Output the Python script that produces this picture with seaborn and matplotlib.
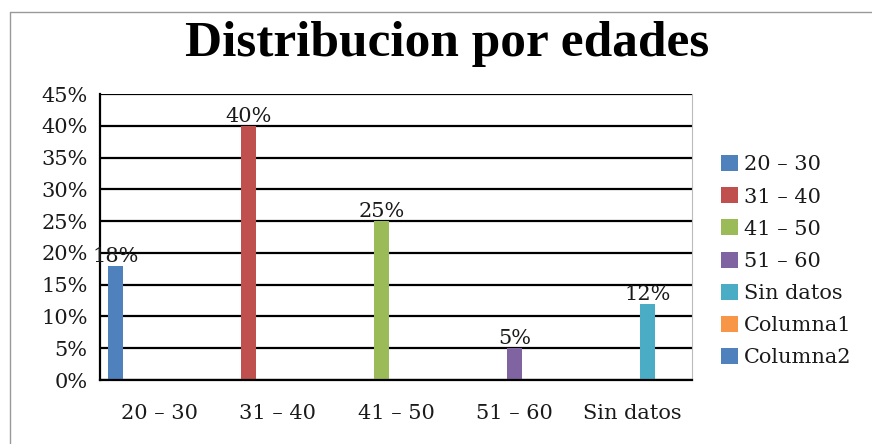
import pandas as pd
import numpy as np
import matplotlib.pyplot as plt
from matplotlib.lines import Line2D
from matplotlib.ticker import FuncFormatter, FixedLocator
import seaborn as sns

# data
categorias = ["20 \u2013 30", "31 \u2013 40", "41 \u2013 50", "51 \u2013 60", "Sin datos"]
series = ["20 \u2013 30", "31 \u2013 40", "41 \u2013 50", "51 \u2013 60", "Sin datos", "Columna1", "Columna2"]
porcentajes = [18, 40, 25, 5, 12]
colores = ["#4F81BD", "#C0504D", "#9BBB59", "#8064A2", "#4BACC6", "#F79646", "#4F81BD"]

rows = []
for i, cat in enumerate(categorias):
    for j, s in enumerate(series):
        v = porcentajes[i] if (j == i) else 0
        rows.append((cat, s, v))
df = pd.DataFrame(rows, columns=["categoria", "serie", "valor"])

sns.set_style("white")
plt.rcParams['font.family'] = ['DejaVu Serif', 'DejaVu Sans']
plt.rcParams['text.color'] = "#1a1a1a"
plt.rcParams['xtick.color'] = "#1a1a1a"
plt.rcParams['ytick.color'] = "#1a1a1a"

fig = plt.figure(figsize=(8.72, 4.44), dpi=100)
ax = fig.add_axes([100/872, 1-380/444, 592/872, 286/444])

sns.barplot(data=df, x="categoria", y="valor", hue="serie", order=categorias,
            hue_order=series, palette=colores, saturation=1, width=0.86,
            errorbar=None, linewidth=0, ax=ax)

for c in ax.containers:
    labs = [f"{v:.0f}%" if v > 0 else "" for v in c.datavalues]
    ax.bar_label(c, labels=labs, fontsize=15, padding=0, color="#1a1a1a")

ax.set_ylim(0, 45)
ax.set_xlim(-0.5, 4.5)
ax.set_yticks(np.arange(0, 46, 5))
ax.yaxis.set_major_formatter(FuncFormatter(lambda v, p: f"{v:.0f}%"))
ax.yaxis.grid(True, color="black", linewidth=1.6)
ax.set_axisbelow(True)
ax.set_xlabel("")
ax.set_ylabel("")
ax.tick_params(axis="y", length=7, width=1.2, color="black", labelsize=15, pad=2)
ax.tick_params(axis="x", which="major", length=0, labelsize=15, pad=17)
ax.xaxis.set_minor_locator(FixedLocator(np.arange(-0.5, 5, 1)))
ax.tick_params(axis="x", which="minor", length=7, width=1.2, color="black", direction="out")
for side in ["left", "bottom"]:
    ax.spines[side].set_color("black")
    ax.spines[side].set_linewidth(1.6)
ax.spines["top"].set_visible(False)
ax.spines["right"].set_color("#bbbbbb")
ax.spines["right"].set_linewidth(0.8)

sns.move_legend(ax, loc="upper left", bbox_to_anchor=(1.035, 0.815), frameon=False,
                title=None, fontsize=15, handlelength=0.8, handleheight=0.8,
                handletextpad=0.3, labelspacing=0.62, borderaxespad=0)

fig.text(0.513, 0.9, "Distribucion por edades", ha="center", va="center",
         fontsize=37, fontweight="bold", family="Liberation Serif", color="black")

# outer chart frame
fig.add_artist(Line2D([10/872, 10/872], [0, 1-12/444], color="#999999", linewidth=1))
fig.add_artist(Line2D([10/872, 1], [1-12/444, 1-12/444], color="#999999", linewidth=1))

fig.savefig("out.png", dpi=100)
